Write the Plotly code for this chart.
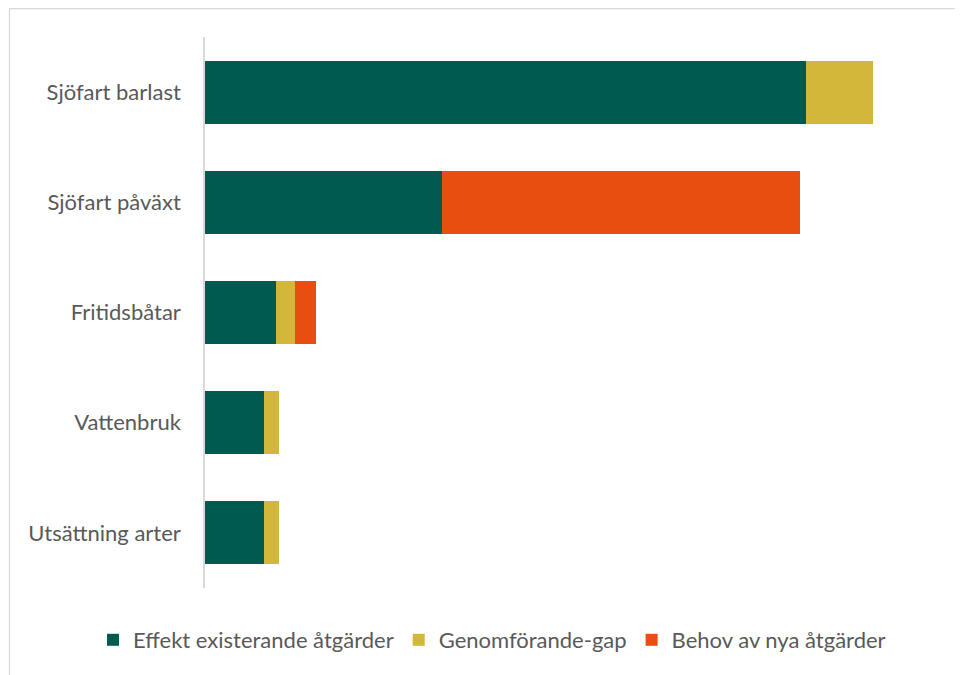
import plotly.graph_objects as go

categories = ["Sjöfart barlast", "Sjöfart påväxt", "Fritidsbåtar", "Vattenbruk", "Utsättning arter"]
effekt = [601, 237, 71, 59, 59]
gap = [67, 0, 19, 15, 15]
behov = [0, 358, 21, 0, 0]

series_names = ["Effekt existerande åtgärder", "Genomförande-gap", "Behov av nya åtgärder"]
colors = ["#005A4F", "#D2B73A", "#E84E10"]

OFF = 8  # page body margin
W, H = 963, 675
L, T = 205 - OFF, 37 - OFF
plot_bottom = 588 - OFF
plot_right = 940 - OFF
R = W - plot_right
B = H - plot_bottom
pw = plot_right - L
ph = plot_bottom - T

fig = go.Figure()
for name, vals, col in zip(series_names, [effekt, gap, behov], colors):
    fig.add_trace(go.Bar(
        y=categories, x=vals, name=name, orientation="h",
        marker=dict(color=col, line=dict(width=0)),
    ))

def px_x(x):
    return (x - OFF - L) / pw

def px_y(y):
    return (plot_bottom - (y - OFF)) / ph

fig.add_shape(type="rect", xref="paper", yref="paper",
              x0=px_x(9.5), x1=px_x(990), y0=px_y(8.6), y1=px_y(700),
              line=dict(color="#D9D9D9", width=1.2), fillcolor="rgba(0,0,0,0)", layer="below")

fig.update_layout(
    width=W, height=H,
    barmode="stack", bargap=0.43,
    margin=dict(l=L, r=R, t=T, b=B, autoexpand=False),
    plot_bgcolor="white", paper_bgcolor="white",
    font=dict(family="Lato, 'Open Sans', sans-serif", color="#595959", size=22),
    xaxis=dict(range=[0, pw], showgrid=False, showticklabels=False, zeroline=False, showline=False, fixedrange=True),
    yaxis=dict(autorange="reversed", showgrid=False, showline=True, linecolor="#D9D9D9", linewidth=1.5,
               ticks="", ticklabelstandoff=18, tickfont=dict(size=22, color="#595959")),
    legend=dict(orientation="h", x=px_x(93), xanchor="left", y=px_y(640), yanchor="middle",
                font=dict(size=22, color="#595959"), traceorder="normal", itemwidth=30,
                bgcolor="rgba(0,0,0,0)"),
    showlegend=True,
)

fig.write_html("out.html")
